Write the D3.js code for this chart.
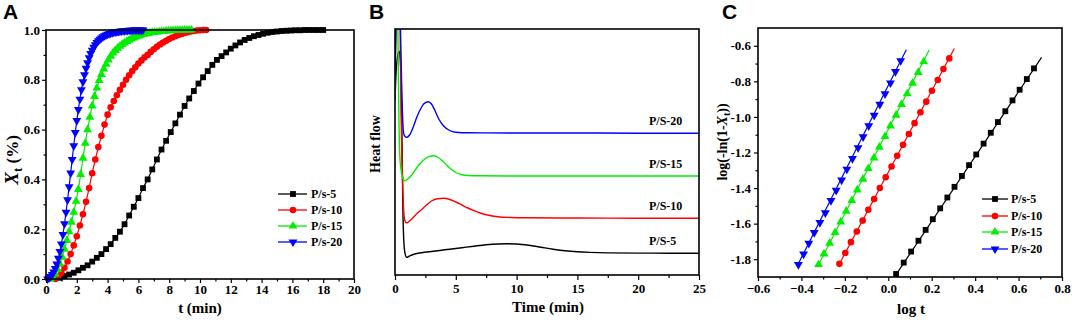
<!DOCTYPE html>
<html><head><meta charset="utf-8">
<script src="https://cdn.jsdelivr.net/npm/d3@7"></script>
<style>
body{margin:0;background:#fff}
svg{display:block}
text{font-family:"Liberation Serif","Times New Roman",serif;font-weight:bold;fill:#000}
</style>
</head><body>
<svg id="c" width="1072" height="324"></svg>
<script>
// ---------------- Panel A data: Xt vs t (min) ----------------
const seriesNamesA = ["P/s-5", "P/s-10", "P/s-15", "P/s-20"];
const tA5 = [0.9,1.2,1.5,1.8,2.1,2.4,2.7,3.0,3.3,3.6,3.9,4.2,4.5,4.8,5.1,5.4,5.7,6.0,6.3,6.6,6.9,7.2,7.5,7.8,8.1,8.4,8.7,9.0,9.3,9.6,9.9,10.2,10.5,10.8,11.1,11.4,11.7,12.0,12.3,12.6,12.9,13.2,13.5,13.8,14.1,14.4,14.7,15.0,15.3,15.6,15.9,16.2,16.5,16.8,17.1,17.4,17.7,18.0];
const xA5 = [0.005,0.012,0.018,0.025,0.035,0.045,0.055,0.070,0.085,0.100,0.120,0.140,0.165,0.190,0.220,0.255,0.290,0.325,0.365,0.400,0.440,0.480,0.520,0.555,0.590,0.625,0.660,0.695,0.725,0.755,0.785,0.810,0.835,0.860,0.880,0.895,0.910,0.925,0.938,0.950,0.960,0.968,0.975,0.980,0.985,0.989,0.992,0.994,0.996,0.997,0.998,0.999,0.999,1.000,1.000,1.000,1.000,1.000];
const tA10 = [0.6,0.8,1.0,1.2,1.4,1.6,1.8,2.0,2.2,2.4,2.6,2.8,3.0,3.2,3.4,3.6,3.8,4.0,4.2,4.4,4.6,4.8,5.0,5.2,5.4,5.6,5.8,6.0,6.2,6.4,6.6,6.8,7.0,7.2,7.4,7.6,7.8,8.0,8.2,8.4,8.6,8.8,9.0,9.2,9.4,9.6,9.8,10.0,10.2,10.4];
const xA10 = [0.000,0.010,0.025,0.045,0.070,0.100,0.135,0.172,0.215,0.260,0.310,0.365,0.425,0.480,0.530,0.575,0.620,0.660,0.690,0.715,0.738,0.760,0.780,0.800,0.818,0.835,0.850,0.865,0.878,0.890,0.900,0.912,0.923,0.933,0.942,0.950,0.957,0.964,0.970,0.975,0.980,0.984,0.988,0.991,0.994,0.996,0.998,0.999,1.000,1.000];
const tA15 = [0.30,0.45,0.60,0.75,0.90,1.05,1.20,1.35,1.50,1.65,1.80,1.95,2.10,2.25,2.40,2.55,2.70,2.85,3.00,3.15,3.30,3.45,3.60,3.75,3.90,4.05,4.20,4.35,4.50,4.65,4.80,4.95,5.10,5.25,5.40,5.55,5.70,5.85,6.00,6.15,6.30,6.45,6.60,6.75,6.90,7.05,7.20,7.35,7.50,7.65,7.80,7.95,8.10,8.25,8.40,8.55,8.70,8.85,9.00,9.15,9.30,9.45];
const xA15 = [0.000,0.008,0.020,0.038,0.060,0.088,0.120,0.155,0.190,0.228,0.268,0.312,0.360,0.420,0.485,0.545,0.600,0.650,0.695,0.733,0.767,0.797,0.822,0.844,0.863,0.880,0.895,0.908,0.918,0.927,0.935,0.942,0.948,0.954,0.959,0.964,0.968,0.972,0.976,0.979,0.982,0.984,0.986,0.988,0.990,0.991,0.992,0.993,0.994,0.995,0.996,0.997,0.997,0.998,0.998,0.999,0.999,0.999,1.000,1.000,1.000,1.000];
const tA20 = [0.1,0.2,0.3,0.4,0.5,0.6,0.7,0.8,0.9,1.0,1.1,1.2,1.3,1.4,1.5,1.6,1.7,1.8,1.9,2.0,2.1,2.2,2.3,2.4,2.5,2.6,2.7,2.8,2.9,3.0,3.1,3.2,3.3,3.4,3.5,3.6,3.7,3.8,3.9,4.0,4.1,4.2,4.3,4.4,4.5,4.6,4.7,4.8,4.9,5.0,5.1,5.2,5.3,5.4,5.5,5.6,5.7,5.8,5.9,6.0,6.1,6.2,6.3];
const xA20 = [0.000,0.004,0.010,0.018,0.028,0.042,0.060,0.083,0.110,0.140,0.178,0.222,0.268,0.318,0.370,0.425,0.480,0.535,0.588,0.636,0.680,0.722,0.760,0.792,0.820,0.846,0.868,0.888,0.905,0.918,0.930,0.941,0.950,0.957,0.963,0.968,0.973,0.977,0.980,0.983,0.985,0.987,0.989,0.991,0.992,0.993,0.994,0.995,0.996,0.997,0.997,0.998,0.998,0.999,0.999,0.999,1.000,1.000,1.000,1.000,1.000,1.000,1.000];
const xTicksA = [0,2,4,6,8,10,12,14,16,18,20];
const yTicksA = [0.0,0.2,0.4,0.6,0.8,1.0];

// ---------------- Panel B data: DSC heat flow (arbitrary units) ----------------
const seriesNamesB = ["P/S-5", "P/S-10", "P/S-15", "P/S-20"];
const tB5 = [0,0.1,0.2,0.3,0.36,0.42,0.5,0.58,0.65,0.72,0.82,0.96,1.2,1.5,2.0,2.6,3.5,4.5,5.5,6.5,7.5,8.5,9.2,10,11,12,13,14,15,16,17.5,20,22.5,25];
const hB5 = [175,205,218,223,223.5,218,195,130,65,35,22,17.7,19,20.5,22,23,24.3,25.8,27.3,28.8,30.2,31,31.2,31,29.8,27.8,25.8,24.2,23.2,22.6,22.1,21.9,21.8,21.7];
const tB10 = [0,0.15,0.3,0.42,0.5,0.58,0.66,0.74,0.82,0.9,1.0,1.2,1.5,1.8,2.1,2.5,3.0,3.5,4.0,4.5,5.0,5.5,6.0,6.5,7.0,7.5,8.0,8.6,9.5,10.8,15,20,25];
const hB10 = [200,270,290,246,160,112,80,60,54,52.5,52.3,54,57.5,61.5,64.5,69,74,76.3,76.7,75.5,73,70,67,64.3,62,60.2,59,58,57.5,57.2,57,56.8,56.7];
const tB15 = [0,0.06,0.15,0.25,0.33,0.4,0.5,0.6,0.7,0.82,1.0,1.3,1.6,2.0,2.5,3.0,3.2,3.5,4.0,4.5,5.0,5.5,6.0,7,10,15,20,25];
const hB15 = [175,250,290,230,150,118,105,99,95.5,94.3,95.5,99,104,110.5,116.5,119,119.2,118,113,107,102.5,100.3,99.5,99.2,99,99,99,99];
const tB20 = [0,0.1,0.2,0.3,0.45,0.55,0.62,0.68,0.75,0.85,0.96,1.2,1.5,1.8,2.1,2.4,2.74,3.0,3.3,3.6,4.0,4.5,5.0,6,10,15,20,25];
const hB20 = [200,260,300,310,246,190,160,145,140,138.3,137.7,140,148,158,166,171.5,173.3,171,164,156,149,144.5,142.8,142.2,142,142,141.8,141.8];
const xTicksB = [0,5,10,15,20,25];

// ---------------- Panel C data: log(-ln(1-Xt)) vs log t ----------------
const lx5 = [0.036,0.071,0.105,0.139,0.172,0.205,0.239,0.272,0.305,0.339,0.372,0.405,0.439,0.472,0.505,0.539,0.572,0.605,0.638,0.671];
const ly5 = [-1.883,-1.819,-1.757,-1.696,-1.635,-1.575,-1.514,-1.453,-1.393,-1.332,-1.271,-1.211,-1.150,-1.089,-1.029,-0.968,-0.907,-0.847,-0.787,-0.727];
const lx10 = [-0.225,-0.198,-0.172,-0.145,-0.118,-0.092,-0.065,-0.039,-0.012,0.015,0.041,0.068,0.095,0.121,0.148,0.175,0.201,0.228,0.254,0.281];
const ly10 = [-1.826,-1.765,-1.704,-1.644,-1.583,-1.522,-1.461,-1.400,-1.339,-1.279,-1.218,-1.157,-1.096,-1.035,-0.974,-0.914,-0.853,-0.792,-0.731,-0.671];
const lx15 = [-0.321,-0.296,-0.270,-0.245,-0.219,-0.194,-0.168,-0.143,-0.117,-0.092,-0.066,-0.041,-0.015,0.010,0.036,0.061,0.087,0.112,0.138,0.163];
const ly15 = [-1.830,-1.770,-1.710,-1.650,-1.590,-1.530,-1.470,-1.410,-1.350,-1.290,-1.230,-1.170,-1.110,-1.050,-0.990,-0.930,-0.870,-0.810,-0.750,-0.690];
const lx20 = [-0.414,-0.390,-0.366,-0.341,-0.315,-0.290,-0.264,-0.240,-0.215,-0.191,-0.165,-0.139,-0.116,-0.090,-0.065,-0.039,-0.015,0.010,0.033,0.057];
const ly20 = [-1.830,-1.771,-1.711,-1.650,-1.594,-1.539,-1.470,-1.413,-1.355,-1.294,-1.234,-1.173,-1.112,-1.050,-0.991,-0.929,-0.870,-0.809,-0.745,-0.684];
// fitted straight lines (endpoints)
const fitX5 = [0.031,0.706],  fitY5 = [-1.895,-0.665];
const fitX10 = [-0.225,0.304], fitY10 = [-1.826,-0.615];
const fitX15 = [-0.321,0.189], fitY15 = [-1.830,-0.622];
const fitX20 = [-0.416,0.083], fitY20 = [-1.830,-0.622];
const xTicksC = [-0.6,-0.4,-0.2,0.0,0.2,0.4,0.6,0.8];
const yTicksC = [-1.8,-1.6,-1.4,-1.2,-1.0,-0.8,-0.6];

// ---------------- styles ----------------
const colors = ["#000000", "#ff0000", "#00ee00", "#0000ff"];
const shapes = ["square", "circle", "up", "down"];

const svg = d3.select("#c");
const zip = (a, b) => a.slice(0, Math.min(a.length, b.length)).map((v, i) => [v, b[i]]);

function symPath(shape) {
  if (shape === "square") return d3.symbol(d3.symbolSquare, 34)();
  if (shape === "circle") return d3.symbol(d3.symbolCircle, 34)();
  return d3.symbol(d3.symbolTriangle, 34)();
}
function drawMarker(g, shape, color, cx, cy) {
  g.append("path").attr("d", symPath(shape))
    .attr("transform", `translate(${cx},${cy})` + (shape === "down" ? " rotate(180)" : ""))
    .attr("fill", color).attr("stroke", "none");
}

function minorBetween(major) {
  const out = [];
  for (let i = 0; i < major.length - 1; i++) out.push((major[i] + major[i + 1]) / 2);
  return out;
}

function drawAxes(g, x, y, box, opt) {
  const {L, R, T, B} = box;
  const ax = g.append("g").attr("transform", `translate(0,${B})`)
    .call(d3.axisBottom(x).tickValues(opt.xMajor).tickSizeInner(opt.tick).tickSizeOuter(0)
      .tickPadding(opt.xPad).tickFormat(opt.xFmt));
  ax.select(".domain").remove();
  ax.selectAll("text").attr("font-size", opt.fs).attr("font-family", null);
  ax.selectAll("line").attr("stroke-width", 1.2);
  const axm = g.append("g").attr("transform", `translate(0,${B})`)
    .call(d3.axisBottom(x).tickValues(opt.xMinor).tickSizeInner(opt.minor).tickSizeOuter(0).tickFormat(""));
  axm.select(".domain").remove();
  axm.selectAll("line").attr("stroke-width", 1.2);
  if (opt.yMajor) {
    const ay = g.append("g").attr("transform", `translate(${L},0)`)
      .call(d3.axisLeft(y).tickValues(opt.yMajor).tickSizeInner(opt.tick).tickSizeOuter(0)
        .tickPadding(opt.yPad).tickFormat(opt.yFmt));
    ay.select(".domain").remove();
    ay.selectAll("text").attr("font-size", opt.fs).attr("font-family", null);
    ay.selectAll("line").attr("stroke-width", 1.2);
    const aym = g.append("g").attr("transform", `translate(${L},0)`)
      .call(d3.axisLeft(y).tickValues(opt.yMinor).tickSizeInner(opt.minor).tickSizeOuter(0).tickFormat(""));
    aym.select(".domain").remove();
    aym.selectAll("line").attr("stroke-width", 1.2);
  }
  g.append("rect").attr("x", L).attr("y", T).attr("width", R - L).attr("height", B - T)
    .attr("fill", "none").attr("stroke", "#000").attr("stroke-width", 1.6);
}

function panelLetter(txt, x, y) {
  svg.append("text").text(txt).attr("x", x).attr("y", y)
    .style("font-family", '"Liberation Sans", Arial, sans-serif').attr("font-size", 21);
}

function legend(g, names, x0, x1, xm, xt, ys) {
  names.forEach((n, i) => {
    g.append("line").attr("x1", x0).attr("x2", x1).attr("y1", ys[i]).attr("y2", ys[i])
      .attr("stroke", colors[i]).attr("stroke-width", 1.3);
    drawMarker(g, shapes[i], colors[i], xm, ys[i]);
    g.append("text").text(n).attr("x", xt).attr("y", ys[i]).attr("dy", "0.35em").attr("font-size", 12);
  });
}

// ================= Panel A =================
(function () {
  const box = {L: 46, R: 354, T: 30, B: 279};
  const g = svg.append("g");
  const x = d3.scaleLinear().domain([0, 20]).range([box.L, box.R]);
  const y = d3.scaleLinear().domain([0, 1]).range([box.B, box.T]);
  const tS = [tA5, tA10, tA15, tA20], vS = [xA5, xA10, xA15, xA20];
  const line = d3.line().x(d => x(d[0])).y(d => y(d[1]));
  tS.forEach((ts, i) => {
    const pts = zip(ts, vS[i]);
    g.append("path").attr("d", line(pts)).attr("fill", "none").attr("stroke", colors[i]).attr("stroke-width", 1.2);
    pts.forEach(p => drawMarker(g, shapes[i], colors[i], x(p[0]), y(p[1])));
  });
  drawAxes(g, x, y, box, {
    xMajor: xTicksA, xMinor: minorBetween(xTicksA), yMajor: yTicksA, yMinor: minorBetween(yTicksA),
    tick: 4, minor: 2.5, xPad: 2, yPad: 2, fs: 13,
    xFmt: d3.format("d"), yFmt: d3.format(".1f")
  });
  legend(g, seriesNamesA, 278, 307, 293, 311, [194, 210, 226, 242]);
  svg.append("text").text("t (min)").attr("x", 200).attr("y", 313).attr("text-anchor", "middle").attr("font-size", 15);
  const yl = svg.append("text").attr("transform", "translate(18,160) rotate(-90)").attr("text-anchor", "middle").attr("font-size", 17);
  yl.append("tspan").text("X").style("font-style", "italic").attr("font-size", 19);
  yl.append("tspan").text("t").attr("font-size", 13).attr("dy", 4);
  yl.append("tspan").text(" (%)").attr("dy", -4);
  panelLetter("A", 3, 19);
})();

// ================= Panel B =================
(function () {
  const box = {L: 395, R: 699, T: 29, B: 275};
  const g = svg.append("g");
  const x = d3.scaleLinear().domain([0, 25]).range([box.L, box.R]);
  const y = d3.scaleLinear().domain([0, 246]).range([box.B, box.T]);
  svg.append("clipPath").attr("id", "clipB").append("rect")
    .attr("x", box.L).attr("y", box.T).attr("width", box.R - box.L).attr("height", box.B - box.T);
  const tS = [tB5, tB10, tB15, tB20], hS = [hB5, hB10, hB15, hB20];
  const line = d3.line().x(d => x(d[0])).y(d => y(d[1])).curve(d3.curveMonotoneX);
  const gc = g.append("g").attr("clip-path", "url(#clipB)");
  [0, 1, 2, 3].forEach(i => {
    gc.append("path").attr("d", line(zip(tS[i], hS[i]))).attr("fill", "none")
      .attr("stroke", colors[i]).attr("stroke-width", 1.4);
  });
  drawAxes(g, x, y, box, {
    xMajor: xTicksB, xMinor: minorBetween(xTicksB), yMajor: null,
    tick: 5, minor: 3, xPad: 4, fs: 13, xFmt: d3.format("d")
  });
  const labY = [hB5, hB10, hB15, hB20].map(h => h[h.length - 1]);
  seriesNamesB.forEach((n, i) => {
    g.append("text").text(n).attr("x", 649).attr("y", y(labY[i]) - 8).attr("font-size", 12);
  });
  svg.append("text").text("Time (min)").attr("x", 548).attr("y", 312).attr("text-anchor", "middle").attr("font-size", 15);
  svg.append("text").text("Heat flow").attr("transform", "translate(380,144) rotate(-90)").attr("text-anchor", "middle").attr("font-size", 14);
  panelLetter("B", 369, 19);
})();

// ================= Panel C =================
(function () {
  const box = {L: 758, R: 1062, T: 28, B: 277};
  const g = svg.append("g");
  const x = d3.scaleLinear().domain([-0.6, 0.8]).range([box.L, box.R]);
  const y = d3.scaleLinear().domain([-1.9, -0.5]).range([box.B, box.T]);
  svg.append("clipPath").attr("id", "clipC").append("rect")
    .attr("x", box.L).attr("y", box.T).attr("width", box.R - box.L).attr("height", box.B - box.T);
  const gc = g.append("g").attr("clip-path", "url(#clipC)");
  const fx = [fitX5, fitX10, fitX15, fitX20], fy = [fitY5, fitY10, fitY15, fitY20];
  const mx = [lx5, lx10, lx15, lx20], my = [ly5, ly10, ly15, ly20];
  const line = d3.line().x(d => x(d[0])).y(d => y(d[1]));
  [0, 1, 2, 3].forEach(i => {
    gc.append("path").attr("d", line(zip(fx[i], fy[i]))).attr("fill", "none").attr("stroke", colors[i]).attr("stroke-width", 1.2);
    zip(mx[i], my[i]).forEach(p => drawMarker(gc, shapes[i], colors[i], x(p[0]), y(p[1])));
  });
  drawAxes(g, x, y, box, {
    xMajor: xTicksC, xMinor: minorBetween(xTicksC), yMajor: yTicksC, yMinor: minorBetween(yTicksC),
    tick: 4, minor: 2.5, xPad: 3, yPad: 3, fs: 13,
    xFmt: d3.format(".1f"), yFmt: d => d3.format(".1f")(d).replace("−", "-")
  });
  legend(g, seriesNamesA, 982, 1008, 995, 1011, [199, 216, 232, 249]);
  svg.append("text").text("log t").attr("x", 911).attr("y", 314).attr("text-anchor", "middle").attr("font-size", 15);
  const yl = svg.append("text").attr("transform", "translate(727,142) rotate(-90)").attr("text-anchor", "middle").attr("font-size", 14);
  yl.append("tspan").text("log(-ln(1-");
  yl.append("tspan").text("X").style("font-style", "italic");
  yl.append("tspan").text("t").attr("font-size", 10).attr("dy", 3);
  yl.append("tspan").text("))").attr("dy", -3);
  panelLetter("C", 722, 19);
})();
</script>
</body></html>
